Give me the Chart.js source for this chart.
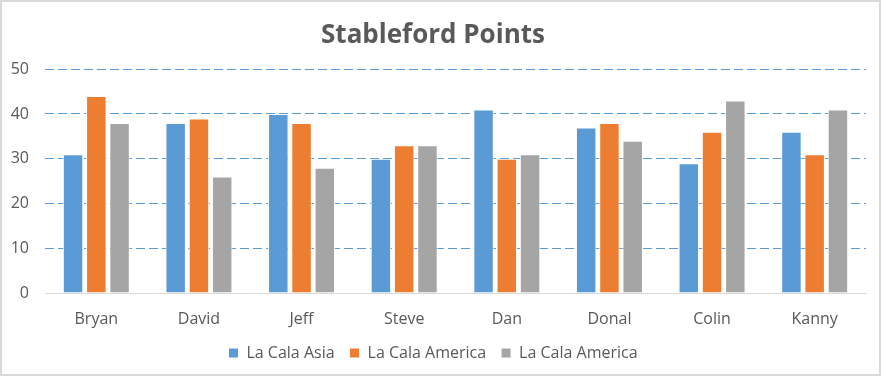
<!DOCTYPE html>
<html lang="en">
  <head>
    <meta charset="UTF-8" />
    <title>Stableford Points</title>
    <style>
      body { margin: 0; background: #fff; }
      .wrap { position: relative; width: 881px; height: 376px; }
      .frame {
        position: absolute; left: 0; top: 0; width: 881px; height: 376px;
        box-sizing: border-box; border: 2px solid #d9d9d9; pointer-events: none;
      }
    </style>
  </head>
  <body>
    <div class="wrap">
      <canvas id="myChart" width="881" height="376"></canvas>
      <div class="frame"></div>
    </div>

    <script src="https://cdn.jsdelivr.net/npm/chart.js"></script>
    <script>
      const players = ['Bryan', 'David', 'Jeff', 'Steve', 'Dan', 'Donal', 'Colin', 'Kanny'];
      const asia = [31, 38, 40, 30, 41, 37, 29, 36];
      const america = [44, 39, 38, 33, 30, 38, 36, 31];
      const america2 = [38, 26, 28, 33, 31, 34, 43, 41];
      const yTicks = [0, 10, 20, 30, 40, 50];

      const textColor = '#595959';
      const font = "'Open Sans', 'Noto Sans', sans-serif";

      function bar(label, data, color) {
        return {
          label: label,
          data: data,
          backgroundColor: color,
          borderColor: '#ffffff',
          borderWidth: 1,
          categoryPercentage: 0.68,
          barPercentage: 0.88,
        };
      }

      new Chart(document.getElementById('myChart'), {
        type: 'bar',
        data: {
          labels: players,
          datasets: [
            bar('La Cala Asia', asia, '#5b9bd5'),
            bar('La Cala America', america, '#ed7d31'),
            bar('La Cala America', america2, '#a5a5a5'),
          ],
        },
        options: {
          responsive: false,
          animation: false,
          layout: { padding: { left: 0, right: 15, top: 0, bottom: 5 } },
          plugins: {
            title: {
              display: true,
              text: 'Stableford Points',
              color: textColor,
              font: { family: font, size: 26, weight: 'bold' },
              padding: { top: 20, bottom: 18 },
            },
            legend: {
              position: 'bottom',
              labels: {
                color: textColor,
                font: { family: font, size: 16 },
                boxWidth: 10,
                boxHeight: 10,
                padding: 15,
              },
            },
            tooltip: { enabled: false },
          },
          scales: {
            x: {
              afterFit: (scale) => { scale.height = 37; },
              grid: { display: false, drawTicks: false },
              border: { display: true, color: '#d9d9d9', width: 1 },
              ticks: { color: textColor, font: { family: font, size: 16 }, padding: 17 },
            },
            y: {
              min: 0,
              max: 50,
              afterFit: (scale) => { scale.width = 45; },
              afterBuildTicks: (scale) => { scale.ticks = yTicks.map(v => ({ value: v })); },
              grid: {
                drawTicks: false,
                color: (ctx) => ctx.tick && ctx.tick.value === 0 ? 'rgba(0,0,0,0)' : '#5b9bd5',
                lineWidth: 1,
              },
              border: { display: false, dash: [9, 4] },
              ticks: { color: textColor, font: { family: font, size: 16 }, padding: 16 },
            },
          },
        },
      });
    </script>
  </body>
</html>
